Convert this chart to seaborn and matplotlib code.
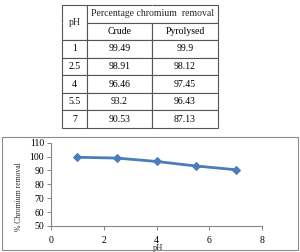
#!/usr/bin/env python3
# plot chromium removal vs pH, with the table of values above the chart

import matplotlib
matplotlib.use('Agg')
import matplotlib.pyplot as plt
import seaborn as sns
from matplotlib.patches import Rectangle

# Data =========================================================================

ph = [1, 2.5, 4, 5.5, 7]
crude = [99.49, 98.91, 96.46, 93.2, 90.53]
pyrolysed = [99.9, 98.12, 97.45, 96.43, 87.13]
x_ticks = [0, 2, 4, 6, 8]
y_ticks = [50, 60, 70, 80, 90, 100, 110]

LINE = '#4a7ebb'
GREY = '#868686'


def main():
    sns.set_theme(style='white')
    plt.rcParams['font.family'] = ['Liberation Serif', 'DejaVu Serif']

    fig = plt.figure(figsize=(3, 2.52), dpi=100)

    # table ---------------------------------------------------------------
    tax = fig.add_axes([0.2067, 0.4921, 0.521, 0.4881])
    tax.axis('off')
    rows = [['', '', ''], ['', 'Crude', 'Pyrolysed']]
    rows += [[str(p), str(c), str(q)] for p, c, q in zip(ph, crude, pyrolysed)]
    tbl = tax.table(cellText=rows, cellLoc='center', bbox=[0, 0, 1, 1],
                    colWidths=[0.16, 0.413, 0.427])
    tbl.auto_set_font_size(False)
    tbl.set_fontsize(7)
    for (r, c), cell in tbl.get_celld().items():
        cell.set_edgecolor('#555555')
        cell.set_linewidth(0.8)
        cell.get_text().set_color('black')
    tbl[0, 0].visible_edges = 'TLR'
    tbl[1, 0].visible_edges = 'BLR'
    tbl[0, 1].visible_edges = 'TLB'
    tbl[0, 2].visible_edges = 'TRB'
    tax.text(0.08, 6 / 7, 'pH', ha='center', va='center', fontsize=7,
             transform=tax.transAxes)
    tax.text(0.58, 13 / 14, 'Percentage chromium  removal', ha='center',
             va='center', fontsize=7, transform=tax.transAxes)

    # chart ---------------------------------------------------------------
    fig.patches.append(Rectangle((0.0067, 0.0079), 0.987, 0.448,
                                 transform=fig.transFigure, fill=False,
                                 ec='#8c8c8c', lw=0.8))
    ax = fig.add_axes([0.17, 0.1032, 0.704, 0.3306])
    sns.lineplot(x=ph, y=crude, ax=ax, color=LINE, lw=2, marker='D',
                 markersize=4.5, markeredgecolor=LINE)
    ax.set_xlim(0, 8)
    ax.set_ylim(50, 110)
    ax.set_xticks(x_ticks)
    ax.set_yticks(y_ticks)
    sns.despine(ax=ax)
    for s in ('left', 'bottom'):
        ax.spines[s].set_color(GREY)
        ax.spines[s].set_linewidth(0.8)
    ax.tick_params(axis='both', which='major', labelsize=7, colors='black',
                   length=3, width=0.7, pad=2, direction='out',
                   left=True, bottom=True)
    ax.tick_params(axis='both', color=GREY)
    ax.tick_params(axis='x', pad=4)
    ax.set_xlabel('pH', fontsize=6)
    ax.set_ylabel('% Chromium removal', fontsize=5.5)
    ax.xaxis.set_label_coords(0.506, -0.215)
    ax.yaxis.set_label_coords(-0.1325, 0.35)

    fig.savefig('out.png', dpi=100)


if __name__ == '__main__':
    main()
